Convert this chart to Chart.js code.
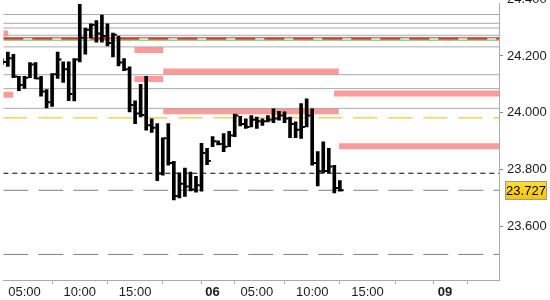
<!DOCTYPE html>
<html>
<head>
<meta charset="utf-8">
<script src="https://cdn.jsdelivr.net/npm/chart.js@4.4.1/dist/chart.umd.min.js"></script>
<style>
  html, body { margin:0; padding:0; background:#fff; }
  #wrap { width:550px; height:300px; }
</style>
</head>
<body>
<div id="wrap"><canvas id="c" width="550" height="300"></canvas></div>
<script>
// 30-minute bars, index 0 = 05:00 on the 5th
const barIdx = [-4,-3,-2,-1,0,1,2,3,4,5,6,7,8,9,10,11,12,13,14,15,16,17,18,19,20,21,22,23,24,25,26,27,28,29,
  30,31,32,33,34,35,36,37,38,39,40,41,42,43,44,45,46,47,48,49,50,51,52,53,54,55,56,57];
const highs = [24.190,24.214,24.206,24.128,24.128,24.177,24.177,24.128,24.082,24.138,24.214,24.179,24.179,24.191,
  24.382,24.298,24.313,24.325,24.344,24.313,24.281,24.270,24.191,24.162,24.042,24.100,24.128,23.979,23.962,23.912,
  23.962,23.829,23.788,23.805,23.791,23.776,23.892,23.875,23.916,23.901,23.927,23.935,23.995,23.987,23.979,23.990,
  23.985,23.979,23.990,24.014,24.005,24.003,23.985,23.968,24.032,24.049,24.014,23.863,23.898,23.875,23.815,23.761];
const lows = [24.170,24.163,24.124,24.078,24.086,24.124,24.119,24.058,24.017,24.022,24.121,24.107,24.043,24.042,
  24.179,24.206,24.264,24.249,24.249,24.235,24.197,24.165,24.148,24.003,23.962,23.985,23.939,23.931,23.761,23.780,
  23.815,23.693,23.700,23.705,23.725,23.720,23.724,23.817,23.881,23.887,23.863,23.881,23.916,23.954,23.945,23.950,
  23.945,23.955,23.968,23.965,23.974,23.965,23.912,23.912,23.910,23.950,23.815,23.742,23.788,23.788,23.718,23.724];
const closes = [24.179,24.192,24.128,24.098,24.123,24.170,24.121,24.075,24.037,24.136,24.188,24.153,24.066,24.188,
  24.264,24.292,24.309,24.279,24.270,24.246,24.275,24.177,24.153,24.027,23.997,23.992,23.956,23.947,23.786,23.910,
  23.823,23.707,23.750,23.740,23.730,23.745,23.858,23.830,23.900,23.890,23.880,23.920,23.990,23.960,23.950,23.975,
  23.970,23.970,23.975,23.980,23.990,23.980,23.960,23.940,23.950,23.990,23.823,23.794,23.795,23.811,23.735,23.727];

// horizontal levels
const greyLevels = [24.346, 24.315, 24.2985, 24.273, 24.232, 24.134, 24.085, 24.0155];
const redLevel = 24.261;
const greenLevel = 24.2557;
const orangeLevel = 23.982;
const blackDashLevel = 23.787;
const lastLevel = 23.727;
const lowDashLevel = 23.501;

// pink zones: [fromIdx, toIdx, price]
const zoneFrom = [-3.82, -3.82, 19.87, 19.87, 25.08, 25.08, 55.96, 56.86];
const zoneTo   = [-2.93, -2.03, 25.08, 25.08, 56.80, 56.80, 85.76, 85.76];
const zonePrice = [24.279, 24.063, 24.221, 24.119, 24.145, 24.005, 24.068, 23.882];

const yTicks = [24.4, 24.2, 24.0, 23.8, 23.6];
const xTickPos = [0, 10, 20, 30, 34, 42, 52, 62, 72, 76, 84];
const xTickLabels = ['05:00','10:00','15:00','','06','05:00','10:00','15:00','','09',''];
const boldTicks = ['06','09'];

const X_MIN = -3.82, X_MAX = 85.76;
const Y_MIN = 23.411, Y_MAX = 24.3855;
const FONT = 'Liberation Sans, Arial, sans-serif';

const level = (v, color, width, dash, order) => ({
  type:'line', data:[{x:X_MIN, y:v}, {x:X_MAX, y:v}],
  borderColor:color, borderWidth:width, borderDash:dash||[], pointRadius:0, order
});

const datasets = [];
zonePrice.forEach((p, i) => datasets.push({
  type:'line', data:[{x:zoneFrom[i], y:p}, {x:zoneTo[i], y:p}],
  borderColor:'#ff9a9a', borderWidth:6, borderCapStyle:'butt', pointRadius:0, order:5
}));
greyLevels.forEach(v => datasets.push(level(v, '#aaaaaa', 1, null, 4)));
datasets.push(level(greenLevel, '#4cc04c', 1, null, 3));
datasets.push(level(redLevel + 0.003, '#e03030', 1, null, 3));
datasets.push(level(redLevel, '#e03030', 2, [20, 9], 3));
datasets.push(level(orangeLevel, '#ffb400', 1, [24, 11], 3));
datasets.push(level(blackDashLevel, '#000000', 1, [5, 4], 3));
datasets.push(level(lastLevel, '#808080', 1, [25, 10], 3));
datasets.push(level(lowDashLevel, '#808080', 1, [25, 10], 3));

// close ticks
datasets.push({
  type:'line', showLine:false,
  data: barIdx.map((x, i) => ({x: x + 0.45, y: closes[i]})),
  pointStyle:'line', pointRadius:1.3, pointBorderWidth:2, pointBorderColor:'#000',
  pointHoverRadius:0, order:0
});
// high-low bars
datasets.push({
  type:'bar',
  data: barIdx.map((x, i) => ({x, y:[lows[i], highs[i]]})),
  backgroundColor:'#000', borderWidth:0, barThickness:3, borderSkipped:false, order:1
});

const lastLabel = {
  id:'lastLabel',
  afterDraw(chart){
    const ctx = chart.ctx;
    const y = chart.scales.y.getPixelForValue(lastLevel);
    const x0 = chart.chartArea.right + 6, w = 42, h = 19;
    ctx.save();
    const g = ctx.createLinearGradient(0, y - h/2, 0, y + h/2);
    g.addColorStop(0, '#ffe034');
    g.addColorStop(1, '#f5c400');
    ctx.fillStyle = g;
    ctx.fillRect(x0, Math.round(y - h/2), w, h);
    ctx.strokeStyle = '#9a9a9a';
    ctx.lineWidth = 1;
    ctx.strokeRect(x0 + 0.5, Math.round(y - h/2) + 0.5, w - 1, h - 1);
    ctx.fillStyle = '#000';
    ctx.font = '13px ' + FONT;
    ctx.textAlign = 'center';
    ctx.textBaseline = 'middle';
    ctx.fillText(lastLevel.toFixed(3), x0 + w/2, y + 1);
    ctx.restore();
  }
};

const bgPlugin = {
  id:'bg',
  beforeDraw(chart){
    const ctx = chart.ctx;
    ctx.save(); ctx.fillStyle = '#fff'; ctx.fillRect(0, 0, chart.width, chart.height); ctx.restore();
  }
};

new Chart(document.getElementById('c').getContext('2d'), {
  type:'bar',
  data:{ datasets },
  options:{
    responsive:false, animation:false,
    layout:{ padding:0 },
    plugins:{ legend:{display:false}, tooltip:{enabled:false} },
    scales:{
      x:{
        type:'linear', min:X_MIN, max:X_MAX, offset:false,
        afterBuildTicks:(s) => { s.ticks = xTickPos.map(v => ({value:v})); },
        afterFit:(s) => { s.height = 20; s.paddingLeft = 0; s.paddingRight = 0; },
        grid:{ drawOnChartArea:false, drawTicks:true, tickLength:4, tickColor:'#aaaaaa' },
        border:{ display:true, color:'#aaaaaa' },
        ticks:{
          autoSkip:false, maxRotation:0, padding:1, color:'#1a1a1a',
          font:(c) => ({ family:FONT, size:13,
            weight: (c.tick && boldTicks.includes(xTickLabels[xTickPos.indexOf(c.tick.value)])) ? 'bold' : 'normal' }),
          callback:(v) => { const k = xTickPos.indexOf(v); return k >= 0 ? xTickLabels[k] : ''; }
        }
      },
      y:{
        type:'linear', position:'right', min:Y_MIN, max:Y_MAX,
        afterBuildTicks:(s) => { s.ticks = yTicks.map(v => ({value:v})); },
        afterFit:(s) => { s.width = 51; s.paddingTop = 0; s.paddingBottom = 0; },
        grid:{ drawOnChartArea:false, drawTicks:true, tickLength:4, tickColor:'#888888' },
        border:{ display:true, color:'#aaaaaa' },
        ticks:{ autoSkip:false, padding:4, color:'#1a1a1a', font:{ family:FONT, size:13 },
          callback:(v) => Number(v).toFixed(3) }
      }
    }
  },
  plugins:[bgPlugin, lastLabel]
});
</script>
</body>
</html>
